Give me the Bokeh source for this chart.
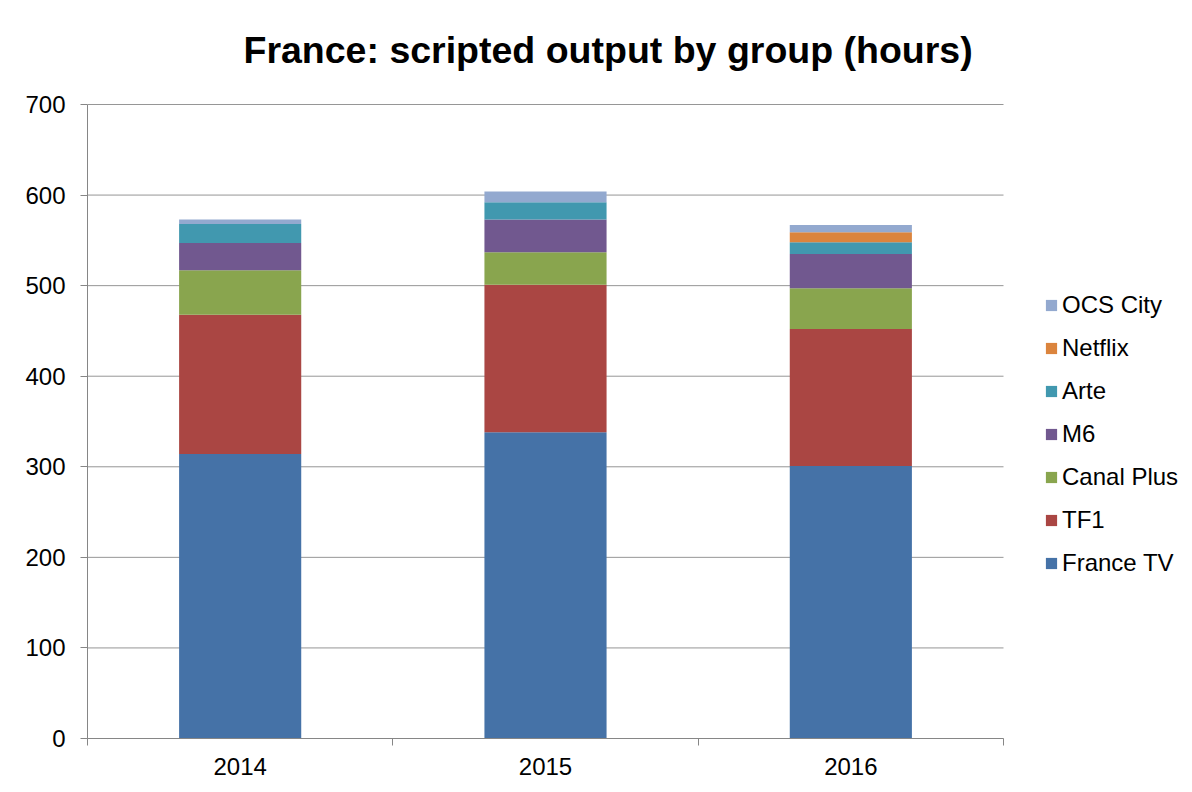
from bokeh.plotting import figure
from bokeh.models import ColumnDataSource, FixedTicker, Legend, LegendItem, Range1d
from bokeh.embed import file_html
from bokeh.resources import INLINE

years = ["2014", "2015", "2016"]
france_tv = [314, 338, 301]
tf1 = [154, 163, 151]
canal_plus = [49, 36, 45]
m6 = [30, 36, 38]
arte = [21, 19, 13]
netflix = [0, 0, 11]
ocs_city = [5, 12, 8]

groups = ["France TV", "TF1", "Canal Plus", "M6", "Arte", "Netflix", "OCS City"]
series = [france_tv, tf1, canal_plus, m6, arte, netflix, ocs_city]
colors = ["#4572A7", "#AA4643", "#89A54E", "#71588F", "#4198AF", "#DB843D", "#93A9CF"]
y_ticks = [0, 100, 200, 300, 400, 500, 600, 700]

FONT = "Liberation Sans"
W, H = 1192, 792
LEFT, TOP, BOTTOM, RIGHT = 87, 80, 54, 2
PLOT_W, PLOT_H = 916, 634          # pixel size of the category/value area
frame_w = W - LEFT - RIGHT
frame_h = H - TOP - BOTTOM
n = len(years)
y_max = y_ticks[-1]

x = [i + 0.5 for i in range(n)]
data = {"x": x}
for g, s in zip(groups, series):
    data[g] = s
source = ColumnDataSource(data)

p = figure(width=W, height=H,
           x_range=Range1d(0, n * frame_w / PLOT_W),
           y_range=Range1d(0, y_max * frame_h / PLOT_H),
           output_backend="svg", toolbar_location=None,
           min_border_left=LEFT, min_border_right=RIGHT, min_border_top=TOP, min_border_bottom=BOTTOM)
p.background_fill_color = "white"
p.border_fill_color = "white"
p.outline_line_color = None
p.xgrid.visible = False
p.ygrid.visible = False

# horizontal gridlines limited to the category area
p.segment(x0=[0] * len(y_ticks), x1=[n] * len(y_ticks), y0=y_ticks, y1=y_ticks,
          line_color="#969696", line_width=1)

renderers = p.vbar_stack(groups, x="x", width=0.4, color=colors, line_color=None, source=source)

# title
p.title.text = "France: scripted output by group (hours)"
p.title.text_font = FONT
p.title.text_font_style = "bold"
p.title.text_font_size = "37.5px"
p.title.text_color = "black"
p.title.align = "left"
p.title.offset = 156
p.title.standoff = 20

AX = "#868686"
# y axis
p.yaxis.ticker = FixedTicker(ticks=y_ticks)
p.yaxis.bounds = (0, y_max)
p.yaxis.axis_line_color = AX
p.yaxis.major_tick_line_color = AX
p.yaxis.major_tick_in = 0
p.yaxis.major_tick_out = 7
p.yaxis.minor_tick_line_color = None
p.yaxis.major_label_text_font = FONT
p.yaxis.major_label_text_font_size = "24px"
p.yaxis.major_label_text_color = "black"
p.yaxis.major_label_standoff = 15

# x axis
p.xaxis.ticker = FixedTicker(ticks=x, minor_ticks=[float(i) for i in range(n + 1)])
p.xaxis.major_label_overrides = dict(zip(x, years))
p.xaxis.bounds = (0, n)
p.xaxis.axis_line_color = AX
p.xaxis.major_tick_line_color = None
p.xaxis.major_tick_in = 0
p.xaxis.major_tick_out = 0
p.xaxis.minor_tick_line_color = AX
p.xaxis.minor_tick_in = 0
p.xaxis.minor_tick_out = 7
p.xaxis.major_label_text_font = FONT
p.xaxis.major_label_text_font_size = "24px"
p.xaxis.major_label_text_color = "black"
p.xaxis.major_label_standoff = 12

items = [LegendItem(label=g, renderers=[r]) for g, r in zip(groups, renderers)][::-1]
legend = Legend(items=items, location=(957, 161))
legend.padding = 0
legend.margin = 0
legend.border_line_color = None
legend.background_fill_alpha = 0
legend.label_text_font = FONT
legend.label_text_font_size = "24px"
legend.label_text_color = "black"
legend.glyph_width = 14
legend.glyph_height = 14
legend.label_standoff = 4
legend.spacing = 15
legend.label_height = 28
p.add_layout(legend, "center")

open("out.html", "w").write(file_html(p, INLINE))
